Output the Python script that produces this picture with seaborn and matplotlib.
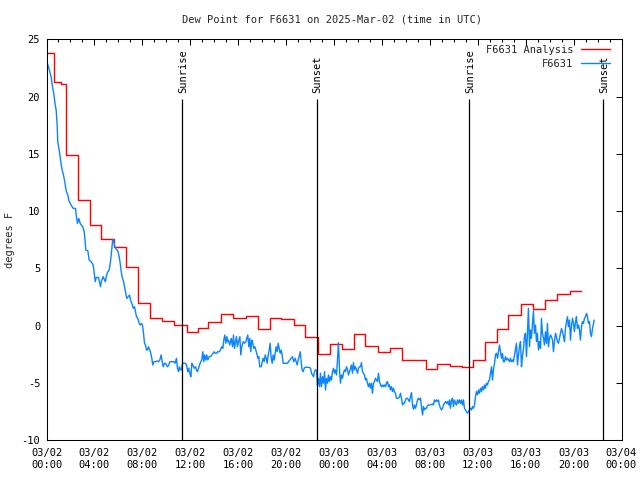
import matplotlib
matplotlib.use("Agg")
import matplotlib.pyplot as plt
import numpy as np
import pandas as pd
import seaborn as sns
from matplotlib.ticker import MultipleLocator, FixedLocator

# ---------------- data (hours since 2025-03-02 00:00 UTC) ----------------
analysis_hours = [0, 0.61, 1.22, 1.61, 2.61, 3.67, 4.59, 5.6, 6.6, 7.6,
                  8.6, 9.68, 10.68, 11.69, 12.65, 13.5, 14.6, 15.6, 16.67, 17.67,
                  18.64, 19.6, 20.7, 21.6, 22.7, 23.7, 24.7, 25.65, 26.6, 27.7,
                  28.7, 29.7, 31.7, 32.6, 33.7, 34.7, 35.6, 36.6, 37.6, 38.5,
                  39.6, 40.6, 41.65, 42.6, 43.7, 44.6]
analysis_values = [23.84, 21.3, 21.1, 14.9, 11.0, 8.77, 7.55, 6.88, 5.1, 1.94,
                   0.63, 0.39, 0.01, -0.55, -0.25, 0.27, 0.98, 0.63, 0.8, -0.33,
                   0.63, 0.54, 0.04, -1.03, -2.49, -1.64, -2.08, -0.77, -1.79, -2.31,
                   -1.99, -3.0, -3.82, -3.39, -3.53, -3.65, -3.0, -1.44, -0.33, 0.89,
                   1.88, 1.41, 2.2, 2.75, 2.98, 2.98]

obs_hours = [
    0.06, 0.17, 0.28, 0.39, 0.5, 0.61, 0.73, 0.81, 0.89, 0.94,
    1.06, 1.14, 1.23, 1.31, 1.42, 1.5, 1.59, 1.67, 1.78, 1.86,
    1.98, 2.06, 2.23, 2.42, 2.5, 2.59, 2.7, 2.81, 2.92, 3.03,
    3.15, 3.23, 3.28, 3.45, 3.56, 3.73, 3.9, 3.98, 4.07, 4.15,
    4.34, 4.42, 4.51, 4.59, 4.73, 4.84, 4.92, 5.01, 5.12, 5.23,
    5.32, 5.4, 5.48, 5.53, 5.62, 5.7, 5.78, 5.95, 6.07, 6.15,
    6.24, 6.32, 6.43, 6.51, 6.62, 6.7, 6.82, 6.93, 7.01, 7.12,
    7.24, 7.35, 7.43, 7.51, 7.62, 7.74, 7.82,
    7.93, 8.01, 8.1, 8.18, 8.26, 8.35, 8.43, 8.51, 8.62, 8.71,
    8.79, 8.87, 8.96, 9.07, 9.24, 9.35, 9.46, 9.57, 9.66, 9.74,
    9.85, 9.93, 10.02, 10.1, 10.21, 10.29, 10.41, 10.52, 10.63, 10.74,
    10.85, 10.93, 11.02, 11.1, 11.19, 11.27, 11.35, 11.46, 11.58, 11.69,
    11.79, 11.88, 11.96, 12.05, 12.13, 12.21, 12.33, 12.44, 12.52, 12.6,
    12.69, 12.77, 12.88, 12.96, 13.05, 13.13, 13.21, 13.3, 13.38, 13.46,
    13.58, 13.69, 13.8, 13.91, 14.0, 14.08, 14.19, 14.3, 14.42, 14.52,
    14.63, 14.72, 14.8, 14.88, 14.97, 15.05, 15.13,
    15.19, 15.3, 15.42, 15.53, 15.61, 15.69, 15.78, 15.86, 15.94, 16.03,
    16.14, 16.22, 16.3, 16.42, 16.53, 16.64, 16.72, 16.8, 16.89, 16.97,
    17.05, 17.14, 17.22, 17.3, 17.39, 17.47, 17.55, 17.64, 17.72, 17.8,
    17.92, 18.01, 18.09, 18.17, 18.26, 18.34, 18.42, 18.51, 18.59, 18.67,
    18.76, 18.84, 18.92, 19.01, 19.09, 19.17, 19.26, 19.34, 19.42, 19.51,
    19.59, 19.67, 19.76, 19.92, 20.12, 20.2, 20.31, 20.43, 20.53, 20.64,
    20.76, 20.84, 20.93, 21.01, 21.09, 21.18, 21.26, 21.34, 21.43, 21.51,
    21.59, 21.76, 21.93, 22.04, 22.12, 22.2, 22.29, 22.37, 22.45, 22.54,
    22.62, 22.7, 22.79,
    22.87, 22.95, 23.04, 23.12, 23.21, 23.29, 23.37, 23.46, 23.54, 23.62,
    23.71, 23.79, 23.87, 23.96, 24.04, 24.12, 24.21, 24.29, 24.37, 24.46,
    24.54, 24.62, 24.71, 24.79, 24.87, 24.96, 25.04, 25.13, 25.21, 25.29,
    25.38, 25.46, 25.54, 25.63, 25.71, 25.79, 25.88, 25.96, 26.04, 26.13,
    26.21, 26.29, 26.38, 26.46, 26.54, 26.63, 26.71, 26.79, 26.88, 26.96,
    27.05, 27.13, 27.21, 27.3, 27.38, 27.46, 27.55, 27.63, 27.71, 27.8,
    27.88, 27.96, 28.05, 28.13, 28.21, 28.3, 28.38, 28.46, 28.55, 28.63,
    28.71, 28.8, 28.88, 28.96, 29.05, 29.13, 29.21, 29.3, 29.38, 29.47,
    29.55, 29.63, 29.72, 29.8, 29.88, 29.97, 30.05, 30.13, 30.22, 30.3,
    30.38, 30.47, 30.55, 30.64, 30.72, 30.8,
    30.88, 30.97, 31.05, 31.14, 31.22, 31.3, 31.39, 31.47, 31.55, 31.64,
    31.72, 31.8, 31.89, 32.05, 32.22, 32.3, 32.39, 32.47, 32.55, 32.64,
    32.72, 32.8, 32.89, 32.97, 33.06, 33.14, 33.22, 33.31, 33.39, 33.47,
    33.56, 33.64, 33.72, 33.81, 33.89, 33.97, 34.06, 34.14, 34.22, 34.31,
    34.39, 34.47, 34.56, 34.64, 34.72, 34.81, 34.89, 34.97, 35.06, 35.14,
    35.23, 35.31, 35.39, 35.48, 35.56, 35.64, 35.73, 35.81, 35.89, 35.98,
    36.06, 36.14, 36.23, 36.31, 36.39, 36.48, 36.56, 36.64, 36.73, 36.81,
    36.89, 36.98, 37.06, 37.15, 37.23, 37.31, 37.4, 37.48, 37.56, 37.65,
    37.73, 37.81, 37.9, 37.98, 38.06, 38.15,
    38.23, 38.31, 38.4, 38.48, 38.56, 38.65, 38.73, 38.81, 38.9, 38.98,
    39.07, 39.15, 39.23, 39.32, 39.4, 39.48, 39.57, 39.65, 39.73, 39.82,
    39.9, 39.98, 40.07, 40.15, 40.23, 40.32, 40.4, 40.48, 40.57, 40.65,
    40.73, 40.82, 40.9, 40.98, 41.07, 41.15, 41.24, 41.32, 41.4, 41.49,
    41.57, 41.65, 41.74, 41.82, 41.9, 41.99, 42.07, 42.15, 42.24, 42.32,
    42.4, 42.49, 42.57, 42.65, 42.74, 42.82, 42.9, 42.99, 43.07, 43.16,
    43.24, 43.32, 43.41, 43.49, 43.57, 43.66, 43.74, 43.82, 43.91, 43.99,
    44.07, 44.16, 44.24, 44.32, 44.41, 44.49, 44.57, 44.66, 44.74, 44.82,
    44.91, 44.99, 45.08, 45.16, 45.24, 45.33, 45.41, 45.49, 45.58, 45.66,
    45.72]

obs_values = [
    22.93, 22.58, 22.15, 21.71, 20.84, 20.26, 19.24, 18.8, 17.5, 16.04,
    15.31, 14.73, 14.0, 13.57, 13.13, 12.7, 12.11, 11.68, 11.39, 10.95,
    10.66, 10.51, 10.23, 10.23, 9.5, 8.92, 9.35, 8.92, 8.77, 8.62,
    8.18, 7.31, 6.59, 6.53, 5.72, 5.57, 5.28, 4.56, 3.83, 4.2,
    4.2, 3.83, 3.39, 3.9, 4.26, 3.97, 3.83, 4.4, 4.7, 4.84,
    5.42, 6.15, 7.02, 7.55, 7.31, 6.88, 6.73, 6.53, 6.0, 5.43,
    4.7, 4.2, 3.83, 3.39, 2.81, 2.37, 2.51, 2.66, 2.23, 1.94,
    1.5, 1.64, 1.2, 0.77, 0.63, 0.19, 0.04,
    0.19, 0.04, -0.68, -1.55, -1.7, -2.14, -2.14, -1.85, -2.14, -2.43,
    -2.86, -3.45, -3.16, -3.16, -3.1, -3.16, -3.01, -2.57, -3.16, -3.6,
    -3.3, -3.3, -3.45, -3.6, -3.45, -3.16, -3.16, -3.16, -3.16, -3.3,
    -2.86, -3.74, -4.03, -3.6, -3.88, -3.88, -3.3, -3.3, -3.3, -3.45,
    -4.03, -3.74, -4.17, -4.47, -3.3, -3.45, -3.74, -3.6, -3.88, -4.03,
    -3.74, -3.45, -3.16, -3.01, -2.29, -3.16, -2.57, -3.01, -2.57, -3.01,
    -2.72, -2.72, -2.57, -2.43, -2.29, -2.43, -2.43, -2.29, -2.29, -2.14,
    -1.85, -1.99, -1.27, -0.83, -1.55, -0.97, -1.41,
    -1.27, -1.7, -1.12, -1.85, -0.83, -1.99, -1.41, -0.97, -1.85, -1.41,
    -0.97, -2.57, -1.85, -1.41, -1.55, -1.41, -1.12, -0.83, -1.85, -1.12,
    -2.29, -1.27, -1.55, -1.99, -1.85, -2.14, -2.43, -2.86, -2.72, -3.6,
    -3.6, -3.16, -2.86, -3.16, -2.57, -2.86, -3.3, -2.57, -2.14, -1.55,
    -2.86, -3.3, -2.57, -3.01, -2.43, -1.85, -2.29, -1.55, -1.99, -2.43,
    -2.14, -2.57, -3.3, -3.3, -3.3, -3.16, -3.01, -2.86, -2.72, -3.16,
    -2.86, -3.16, -3.45, -3.01, -2.72, -2.29, -3.16, -3.88, -4.03, -3.74,
    -3.65, -3.65, -3.65, -3.74, -4.17, -4.32, -4.47, -4.03, -3.88, -3.88,
    -5.19, -4.61, -5.34,
    -4.17, -5.34, -4.47, -5.04, -4.03, -5.63, -4.61, -5.04, -4.32, -4.9,
    -4.47, -4.76, -4.03, -3.74, -4.17, -3.88, -4.32, -3.01, -1.5, -3.88,
    -5.04, -4.32, -4.61, -4.17, -3.88, -4.03, -3.6, -3.88, -4.32, -4.03,
    -3.74, -3.45, -4.17, -3.25, -3.88, -3.6, -3.88, -4.17, -3.74, -3.6,
    -3.6, -3.25, -4.03, -4.17, -4.32, -4.76, -4.61, -5.04, -5.34, -5.04,
    -5.48, -5.04, -5.92, -5.04, -4.9, -4.61, -4.76, -4.9, -4.17, -4.9,
    -5.19, -5.34, -5.19, -5.34, -5.19, -5.34, -5.04, -4.9, -5.34, -5.19,
    -5.63, -5.34, -5.77, -5.48, -5.77, -5.92, -6.35, -6.35, -6.35, -6.21,
    -5.92, -6.35, -6.94, -6.79, -6.79, -6.5, -6.35, -6.35, -6.5, -6.65,
    -6.21, -5.86, -6.94, -7.31, -6.94, -7.23,
    -6.94, -6.5, -6.35, -6.5, -6.35, -7.08, -7.81, -7.08, -7.37, -7.23,
    -7.23, -7.02, -6.94, -6.94, -6.85, -6.94, -6.5, -6.65, -6.5, -6.65,
    -6.5, -6.94, -7.23, -7.37, -7.23, -6.94, -6.79, -6.65, -6.79, -6.65,
    -6.94, -6.5, -7.23, -6.5, -6.35, -7.08, -6.5, -6.79, -6.94, -6.5,
    -6.79, -6.5, -6.79, -6.5, -6.94, -6.5, -7.23, -7.37, -7.52, -7.66,
    -7.52, -7.37, -7.23, -7.37, -7.08, -7.23, -6.94, -6.21, -5.77, -6.06,
    -5.63, -5.92, -5.48, -5.77, -5.34, -5.63, -5.19, -5.48, -5.04, -5.19,
    -4.9, -4.76, -4.17, -3.6, -4.76, -3.88, -3.3, -2.57, -2.43, -2.86,
    -2.29, -1.7, -2.29, -2.86, -2.43, -3.16,
    -3.16, -2.72, -3.01, -2.86, -3.01, -3.16, -2.86, -3.16, -3.01, -3.16,
    -2.57, -1.99, -1.55, -3.45, -2.57, -1.85, -1.41, -3.6, -2.72, -1.99,
    -0.97, -0.68, -2.72, -0.68, 1.5, -1.85, -0.39, -1.12, 0.19, 1.3,
    -0.68, 0.04, -1.41, -0.68, -2.14, -1.41, -1.99, 0.63, -0.68, -1.12,
    -1.7, -0.54, -1.55, 0.19, -1.85, -1.12, -0.83, -0.97, -1.27, -2.29,
    -1.41, -0.68, -0.97, -1.41, -1.55, -1.12, -0.68, -0.25, -0.54, -0.97,
    -1.41, -0.25, 0.33, 0.77, -0.1, 0.48, -1.27, -0.1, 0.63, 0.19,
    -0.54, 0.33, 0.77, -0.25, 0.04, -0.39, -1.27, -0.1, 0.33, 0.19,
    0.63, 0.77, 1.06, 0.77, 0.19, 0.33, -0.68, -0.97, -0.25, 0.19,
    0.48]

sun_event_hours = [11.35, 22.54, 35.31, 46.49]
sun_event_labels = ["Sunrise", "Sunset", "Sunrise", "Sunset"]

xtick_hours = [0, 4, 8, 12, 16, 20, 24, 28, 32, 36, 40, 44, 48]
xtick_labels = ["03/02\n00:00", "03/02\n04:00", "03/02\n08:00", "03/02\n12:00",
                "03/02\n16:00", "03/02\n20:00", "03/03\n00:00", "03/03\n04:00",
                "03/03\n08:00", "03/03\n12:00", "03/03\n16:00", "03/03\n20:00",
                "03/04\n00:00"]
ytick_values = [-10, -5, 0, 5, 10, 15, 20, 25]

title = "Dew Point for F6631 on 2025-Mar-02 (time in UTC)"
ylabel = "degrees F"
analysis_label = "F6631 Analysis"
obs_label = "F6631"

# ---------------- style ----------------
sns.set_style("white")
FONT = ["DejaVu Sans Mono"]
plt.rcParams["font.family"] = FONT
plt.rcParams["font.size"] = 7.5
plt.rcParams["axes.edgecolor"] = "black"
plt.rcParams["axes.linewidth"] = 0.75

RED = "#ff0000"
BLUE = "#0a84ff"
LW = 1.0

fig = plt.figure(figsize=(6.4, 4.8), dpi=100)
ax = fig.add_axes([46.5 / 640, 1 - 440 / 480, 575 / 640, 400.7 / 480])

df_an = pd.DataFrame({"hours": analysis_hours, "dewpoint": analysis_values})
df_obs = pd.DataFrame({"hours": obs_hours, "dewpoint": obs_values})

sns.lineplot(data=df_an, x="hours", y="dewpoint", ax=ax, color=RED,
             estimator=None, sort=False, drawstyle="steps-post",
             linewidth=LW, label=analysis_label)
sns.lineplot(data=df_obs, x="hours", y="dewpoint", ax=ax, color=BLUE,
             estimator=None, sort=False, linewidth=LW, label=obs_label)

for h, lab in zip(sun_event_hours, sun_event_labels):
    ax.vlines(h, -10, 19.76, color="black", linewidth=0.9)
    ax.text(h + 0.1, 20.35, lab, rotation=90, ha="center", va="bottom",
            fontsize=7.5, color="black")

ax.set_xlim(0, 48)
ax.set_ylim(-10, 25)
ax.xaxis.set_major_locator(FixedLocator(xtick_hours))
ax.set_xticklabels(xtick_labels)
ax.xaxis.set_minor_locator(MultipleLocator(1))
ax.set_yticks(ytick_values)
ax.set_yticklabels([str(v) for v in ytick_values])
ax.tick_params(axis="both", which="both", direction="in", top=True, right=True,
               colors="black", width=0.75)
ax.tick_params(axis="both", which="major", length=4.5)
ax.tick_params(axis="x", which="minor", length=2.5)
ax.tick_params(axis="x", which="major", pad=6)
ax.tick_params(axis="y", which="major", pad=4.5)
ax.set_xlabel("")
ax.set_ylabel("")
for s in ax.spines.values():
    s.set_visible(True)
    s.set_color("black")

fig.text(332.5 / 640, 1 - 19 / 480, title, ha="center", va="center", fontsize=7.5)
fig.text(10 / 640, 0.5, ylabel, ha="center", va="center", rotation=90, fontsize=7.5)

leg = ax.legend(loc="upper right", bbox_to_anchor=(0.98, 0.986), frameon=False,
                markerfirst=False, handlelength=2.8, handletextpad=0.7,
                labelspacing=0.35, borderaxespad=0, borderpad=0, fontsize=7.5)

fig.savefig("out.png", dpi=100)
